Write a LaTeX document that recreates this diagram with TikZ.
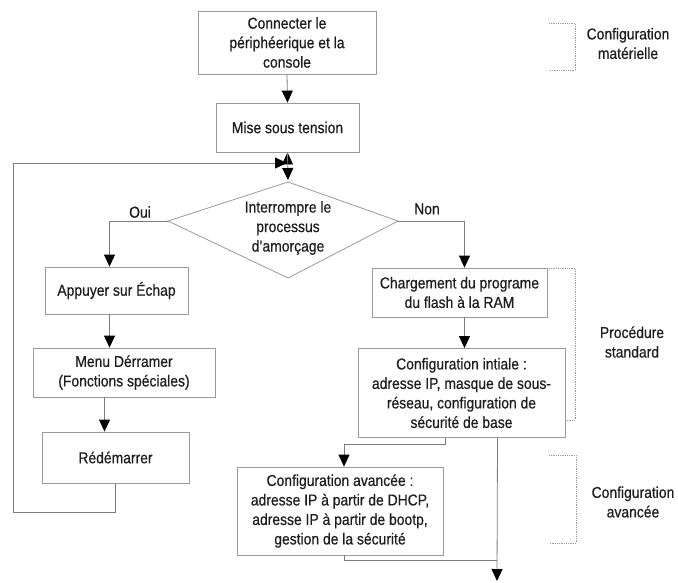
\documentclass[tikz,border=0pt]{standalone}
\usepackage{fontspec}
\setmainfont{Liberation Sans}[FakeStretch=0.88, FakeBold=0.6]
\usetikzlibrary{arrows.meta, positioning}
\definecolor{boxline}{HTML}{9A9A9A}
\definecolor{linkline}{HTML}{7C7C7C}
\definecolor{inktext}{HTML}{1E1E1E}
\tikzset{
    x=1pt, y=-1pt, % one unit is one pixel of the reference, y runs down
    >={Triangle[length=12pt, width=11pt, color=black]}, % filled black arrow heads
    every node/.style={text=inktext, align=center, inner sep=0pt}, % text of all nodes
    stepbox/.style={draw=boxline, line width=0.8pt}, % the process boxes
    link/.style={draw=linkline, line width=0.8pt}, % the connectors
    bracket/.style={draw=boxline, densely dotted, line width=0.8pt}, % the dotted side brackets
}

\begin{document}
\begin{tikzpicture}[font=\fontsize{15.8pt}{19.5pt}\selectfont]
                            \useasboundingbox (0,0) rectangle (678,582);
                            % main column
                            \node[stepbox, minimum width=178pt, minimum height=63pt] (connect) at (287,42.5) {Connecter le\\périphéerique et la\\console};
                            \node[stepbox, minimum width=143pt, minimum height=49pt] (tension) at (287.5,127.5) {Mise sous tension};
                            % decision
                            \coordinate (dtop) at (288,182);
                            \coordinate (dright) at (398,221);
                            \coordinate (dbottom) at (288,278);
                            \coordinate (dleft) at (168,221);
                            \draw[stepbox] (dtop) -- (dright) -- (dbottom) -- (dleft) -- cycle;
                            \node (decision) at (288,228) {Interrompre le\\processus\\d’amorçage};
                            \node (oui) at (140,212) {Oui};
                            \node (non) at (427,209) {Non};
                            % left branch
                            \node[stepbox, minimum width=143pt, minimum height=47pt] (appuyer) at (116.5,290.5) {Appuyer sur Échap};
                            \node[stepbox, minimum width=182pt, minimum height=49pt] (menu) at (124,372.5) {Menu Dérramer\\(Fonctions spéciales)};
                            \node[stepbox, minimum width=147pt, minimum height=51pt] (redem) at (115.5,457.5) {Rédémarrer};
                            % right branch
                            \node[stepbox, minimum width=175pt, minimum height=49pt] (charge) at (459.5,292.5) {Chargement du programe\\du flash à la RAM};
                            \node[stepbox, minimum width=207pt, minimum height=89pt] (init) at (461.5,393) {Configuration intiale :\\adresse IP, masque de sous-\\réseau, configuration de\\sécurité de base};
                            \node[stepbox, minimum width=206pt, minimum height=88pt] (avance) at (340,511) {Configuration avancée :\\adresse IP à partir de DHCP,\\adresse IP à partir de bootp,\\gestion de la sécurité};
                            % side labels
                            \node (hwlabel) at (628,43.5) {Configuration\\matérielle};
                            \node (stdlabel) at (632,342) {Procédure\\standard};
                            \node (advlabel) at (633,502) {Configuration\\avancée};
                            \coordinate (merge) at (287,163);
                            \coordinate (loopcorner) at (13,163);
                            \coordinate (join) at (497,560);
                            \coordinate (fin) at (497,581);
                            \draw[link, ->]
                            (connect.south) edge (tension.north)
                            (tension.south) edge[shorten >=2pt] (dtop);
                            \draw[link, ->] (redem.south) -- ++(0,29) -| (loopcorner) -- (merge);
                            \draw[link, ->] (dleft) -| ([xshift=-7pt]appuyer.north);
                            \draw[link, ->] ([xshift=-7pt]appuyer.south) -- ([xshift=-7pt]appuyer.south |- menu.north);
                            \draw[link, ->] ([xshift=-11pt]redem.north |- menu.south) -- ([xshift=-11pt]redem.north);
                            \draw[link, ->] (dright) -| ([xshift=5pt]charge.north);
                            \draw[link, ->] ([xshift=5pt]charge.south) -- ([xshift=5pt]charge.south |- init.north);
                            \draw[link, ->] ([xshift=-16pt]init.south) -- ++(0,6) -| ([xshift=4pt]avance.north);
                            \draw[link, ->] ([xshift=36pt]init.south) -- (fin);
                            \draw[link] ([xshift=4pt]avance.south) |- (join);
                            % dotted brackets
                            \draw[bracket] (549,23) -- (575,23) -- (575,70) -- (549,70);
                            \draw[bracket] (549,268) -- (575,268) -- (575,420) -- (565,420);
                            \draw[bracket] (549,455) -- (576,455) -- (576,543) -- (549,543);
                        \end{tikzpicture}
\end{document}
